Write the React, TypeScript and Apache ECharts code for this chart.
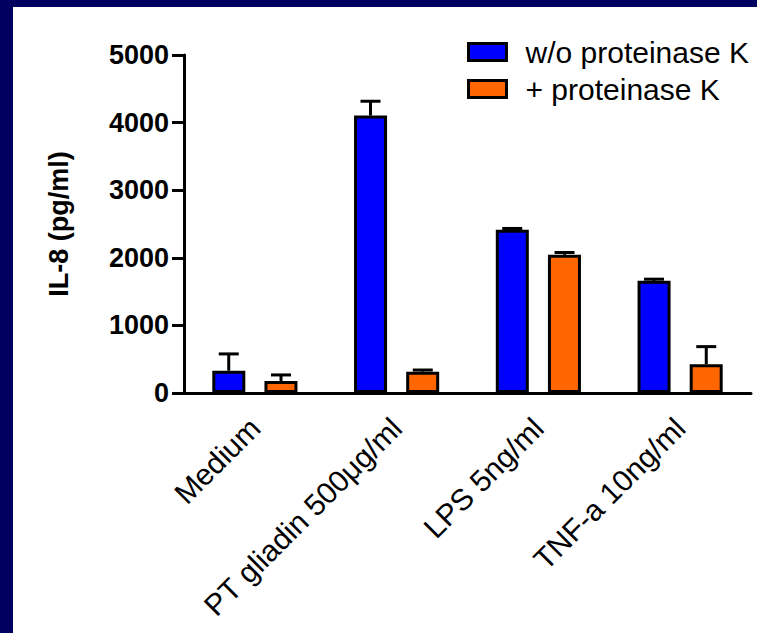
import React, { useEffect, useRef } from "react";
import * as echarts from "echarts";

const categories = ["Medium", "PT gliadin 500μg/ml", "LPS 5ng/ml", "TNF-a 10ng/ml"];
const seriesNames = ["w/o proteinase K", "+ proteinase K"];
const withoutPK = [330, 4104, 2415, 1659];
const withoutPKErr = [248, 212, 19, 25];
const withPK = [178, 316, 2044, 425];
const withPKErr = [89, 24, 34, 261];
const yTicks = [0, 1000, 2000, 3000, 4000, 5000];

const FONT = "'Liberation Sans', Arial, Helvetica, sans-serif";
const BLUE = "#0000FF";
const ORANGE = "#FF6600";
const NAVY = "#000060";

function errorSeries(values: number[], errs: number[], side: number) {
  return {
    type: "custom",
    silent: true,
    z: 1,
    data: values.map((v, i) => [i, v, v + errs[i]]),
    renderItem: (params: any, api: any) => {
      const i = api.value(0);
      const base = api.coord([i, api.value(1)]);
      const top = api.coord([i, api.value(2)]);
      const band = api.size([1, 0])[0];
      const x = base[0] + side * band * (26 / 141);
      const cap = 10;
      return {
        type: "group",
        children: [
          {
            type: "line",
            shape: { x1: x, y1: base[1], x2: x, y2: top[1] },
            style: { stroke: "#000", lineWidth: 3 },
          },
          {
            type: "line",
            shape: { x1: x - cap, y1: top[1], x2: x + cap, y2: top[1] },
            style: { stroke: "#000", lineWidth: 3 },
          },
        ],
      };
    },
  };
}

export default function App() {
  const ref = useRef<HTMLDivElement>(null);
  useEffect(() => {
    document.body.style.margin = "0";
    document.body.style.overflow = "hidden";
    document.body.style.background = "#fff";
    document.documentElement.style.overflow = "hidden";
    document.documentElement.style.background = "#fff";
    const chart = echarts.init(ref.current!, null, { renderer: "svg" });
    chart.setOption({
      animation: false,
      backgroundColor: "#fff",
      textStyle: { fontFamily: FONT },
      graphic: [
        { type: "rect", shape: { x: 0, y: 0, width: 757, height: 7 }, style: { fill: NAVY } },
        { type: "rect", shape: { x: 0, y: 0, width: 13, height: 633 }, style: { fill: NAVY } },
      ],
      legend: {
        orient: "vertical",
        left: 462,
        top: 32,
        itemWidth: 38,
        itemHeight: 17,
        itemGap: 7,
        icon: "rect",
        data: seriesNames,
        itemStyle: { borderColor: "#000", borderWidth: 3 },
        textStyle: { fontFamily: FONT, fontSize: 30, color: "#000", padding: [0, 0, 0, 14] },
      },
      grid: { left: 184, right: 7, top: 55, bottom: 240, containLabel: false },
      xAxis: {
        type: "category",
        data: categories,
        axisLine: { lineStyle: { color: "#000", width: 3 } },
        axisTick: { alignWithLabel: true, length: 10, lineStyle: { color: "#000", width: 3 } },
        axisLabel: {
          rotate: 45,
          margin: 30,
          fontSize: 30,
          color: "#000",
          fontFamily: FONT,
          interval: 0,
        },
      },
      yAxis: {
        type: "value",
        min: yTicks[0],
        max: yTicks[yTicks.length - 1],
        interval: 1000,
        name: "IL-8 (pg/ml)",
        nameLocation: "middle",
        nameGap: 112,
        nameTextStyle: { fontSize: 27, fontWeight: "bold", color: "#000", fontFamily: FONT },
        axisLine: { show: true, lineStyle: { color: "#000", width: 3 } },
        axisTick: { show: true, length: 12, lineStyle: { color: "#000", width: 3 } },
        axisLabel: {
          fontSize: 27,
          fontWeight: "bold",
          color: "#000",
          margin: 15,
          fontFamily: FONT,
          formatter: (v: number) => String(v),
        },
        splitLine: { show: false },
      },
      series: [
        {
          name: seriesNames[0],
          type: "bar",
          data: withoutPK,
          barWidth: 33,
          barGap: "58%",
          z: 2,
          itemStyle: { color: BLUE, borderColor: "#000", borderWidth: 3 },
        },
        {
          name: seriesNames[1],
          type: "bar",
          data: withPK,
          barWidth: 33,
          barGap: "58%",
          z: 2,
          itemStyle: { color: ORANGE, borderColor: "#000", borderWidth: 3 },
        },
        errorSeries(withoutPK, withoutPKErr, -1),
        errorSeries(withPK, withPKErr, 1),
      ],
    });
    return () => chart.dispose();
  }, []);
  return <div ref={ref} style={{ width: 758, height: 633, position: "fixed", left: 0, top: 0 }} />;
}
